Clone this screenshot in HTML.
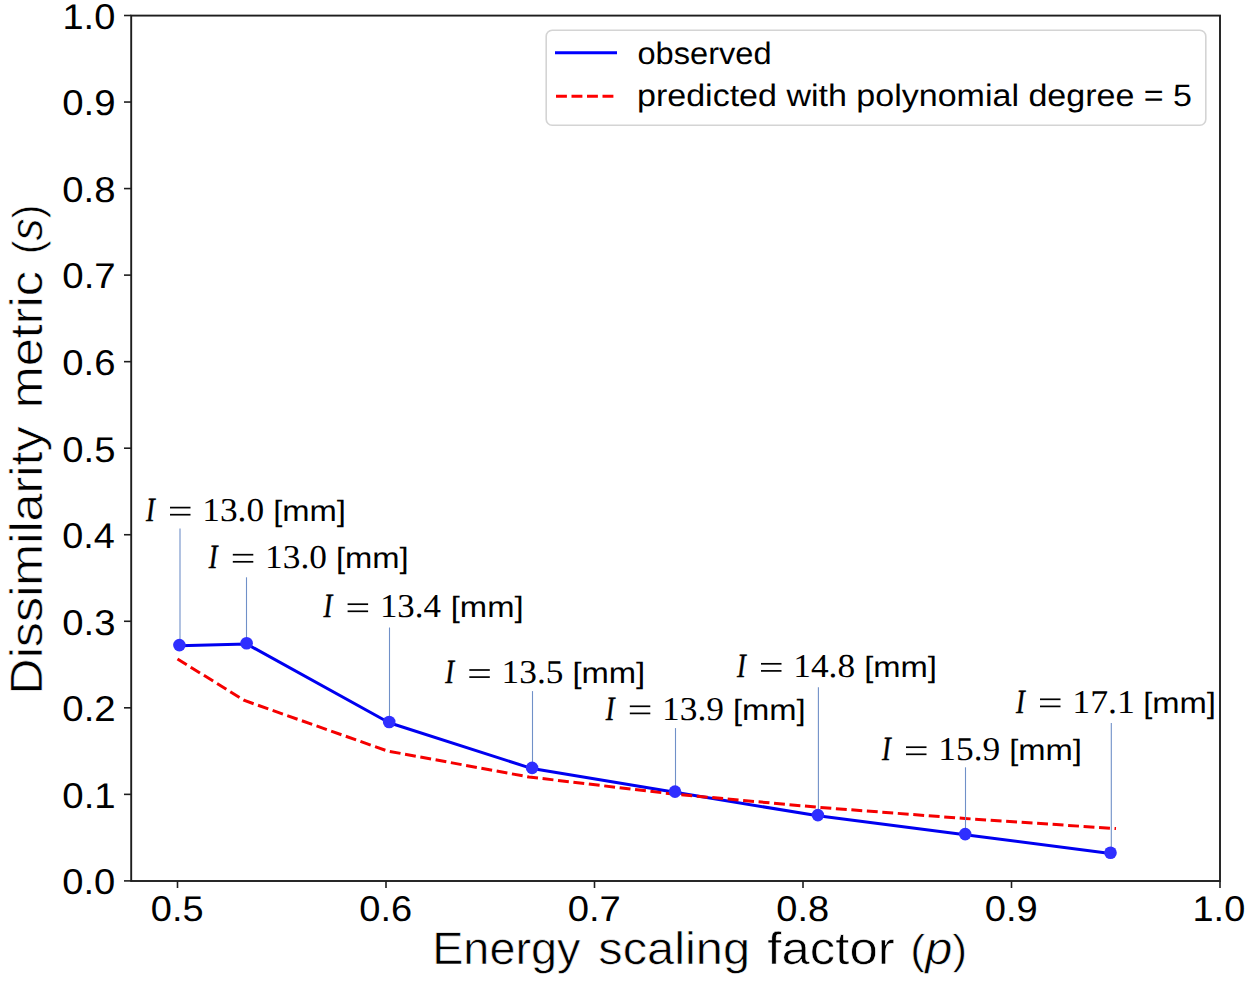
<!DOCTYPE html>
<html><head><meta charset="utf-8"><style>
html,body{margin:0;padding:0;background:#fff;}
body{width:1248px;height:982px;overflow:hidden;font-family:"Liberation Sans", sans-serif;}
svg{display:block;text-rendering:geometricPrecision;}
</style></head><body>
<svg width="1248" height="982" viewBox="0 0 1248 982">
<rect x="0" y="0" width="1248" height="982" fill="#fff"/>
<rect x="131.2" y="15.6" width="1088.8" height="865.4" fill="none" stroke="#1e1e1e" stroke-width="1.9"/>
<line x1="124" y1="880.90" x2="131.2" y2="880.90" stroke="#1e1e1e" stroke-width="1.6"/>
<text x="62.31" y="894.20" font-family='"Liberation Sans", sans-serif' font-size="35.8" textLength="52.98" lengthAdjust="spacingAndGlyphs">0.0</text>
<line x1="124" y1="794.36" x2="131.2" y2="794.36" stroke="#1e1e1e" stroke-width="1.6"/>
<text x="62.30" y="807.66" font-family='"Liberation Sans", sans-serif' font-size="35.8" textLength="53.37" lengthAdjust="spacingAndGlyphs">0.1</text>
<line x1="124" y1="707.82" x2="131.2" y2="707.82" stroke="#1e1e1e" stroke-width="1.6"/>
<text x="62.30" y="721.12" font-family='"Liberation Sans", sans-serif' font-size="35.8" textLength="53.43" lengthAdjust="spacingAndGlyphs">0.2</text>
<line x1="124" y1="621.28" x2="131.2" y2="621.28" stroke="#1e1e1e" stroke-width="1.6"/>
<text x="62.31" y="634.58" font-family='"Liberation Sans", sans-serif' font-size="35.8" textLength="53.18" lengthAdjust="spacingAndGlyphs">0.3</text>
<line x1="124" y1="534.74" x2="131.2" y2="534.74" stroke="#1e1e1e" stroke-width="1.6"/>
<text x="62.32" y="548.04" font-family='"Liberation Sans", sans-serif' font-size="35.8" textLength="52.59" lengthAdjust="spacingAndGlyphs">0.4</text>
<line x1="124" y1="448.20" x2="131.2" y2="448.20" stroke="#1e1e1e" stroke-width="1.6"/>
<text x="62.31" y="461.50" font-family='"Liberation Sans", sans-serif' font-size="35.8" textLength="53.10" lengthAdjust="spacingAndGlyphs">0.5</text>
<line x1="124" y1="361.66" x2="131.2" y2="361.66" stroke="#1e1e1e" stroke-width="1.6"/>
<text x="62.31" y="374.96" font-family='"Liberation Sans", sans-serif' font-size="35.8" textLength="53.18" lengthAdjust="spacingAndGlyphs">0.6</text>
<line x1="124" y1="275.12" x2="131.2" y2="275.12" stroke="#1e1e1e" stroke-width="1.6"/>
<text x="62.30" y="288.42" font-family='"Liberation Sans", sans-serif' font-size="35.8" textLength="53.43" lengthAdjust="spacingAndGlyphs">0.7</text>
<line x1="124" y1="188.58" x2="131.2" y2="188.58" stroke="#1e1e1e" stroke-width="1.6"/>
<text x="62.31" y="201.88" font-family='"Liberation Sans", sans-serif' font-size="35.8" textLength="53.16" lengthAdjust="spacingAndGlyphs">0.8</text>
<line x1="124" y1="102.04" x2="131.2" y2="102.04" stroke="#1e1e1e" stroke-width="1.6"/>
<text x="62.30" y="115.34" font-family='"Liberation Sans", sans-serif' font-size="35.8" textLength="53.31" lengthAdjust="spacingAndGlyphs">0.9</text>
<line x1="124" y1="15.50" x2="131.2" y2="15.50" stroke="#1e1e1e" stroke-width="1.6"/>
<text x="62.51" y="28.80" font-family='"Liberation Sans", sans-serif' font-size="35.8" textLength="52.77" lengthAdjust="spacingAndGlyphs">1.0</text>
<line x1="177.50" y1="881.0" x2="177.50" y2="888" stroke="#1e1e1e" stroke-width="1.6"/>
<text x="150.77" y="920.6" font-family='"Liberation Sans", sans-serif' font-size="35.8" textLength="52.78" lengthAdjust="spacingAndGlyphs">0.5</text>
<line x1="386.00" y1="881.0" x2="386.00" y2="888" stroke="#1e1e1e" stroke-width="1.6"/>
<text x="359.26" y="920.6" font-family='"Liberation Sans", sans-serif' font-size="35.8" textLength="52.86" lengthAdjust="spacingAndGlyphs">0.6</text>
<line x1="594.50" y1="881.0" x2="594.50" y2="888" stroke="#1e1e1e" stroke-width="1.6"/>
<text x="567.76" y="920.6" font-family='"Liberation Sans", sans-serif' font-size="35.8" textLength="53.11" lengthAdjust="spacingAndGlyphs">0.7</text>
<line x1="803.00" y1="881.0" x2="803.00" y2="888" stroke="#1e1e1e" stroke-width="1.6"/>
<text x="776.27" y="920.6" font-family='"Liberation Sans", sans-serif' font-size="35.8" textLength="52.84" lengthAdjust="spacingAndGlyphs">0.8</text>
<line x1="1011.50" y1="881.0" x2="1011.50" y2="888" stroke="#1e1e1e" stroke-width="1.6"/>
<text x="984.76" y="920.6" font-family='"Liberation Sans", sans-serif' font-size="35.8" textLength="52.99" lengthAdjust="spacingAndGlyphs">0.9</text>
<line x1="1220.00" y1="881.0" x2="1220.00" y2="888" stroke="#1e1e1e" stroke-width="1.6"/>
<text x="1192.56" y="920.6" font-family='"Liberation Sans", sans-serif' font-size="35.8" textLength="52.67" lengthAdjust="spacingAndGlyphs">1.0</text>
<text x="432.16" y="963.8" font-family='"Liberation Sans", sans-serif' font-size="45.5" stroke="#fff" stroke-width="0.6" textLength="148.23" lengthAdjust="spacingAndGlyphs">Energy</text>
<text x="598.34" y="963.8" font-family='"Liberation Sans", sans-serif' font-size="45.5" stroke="#fff" stroke-width="0.6" textLength="151.70" lengthAdjust="spacingAndGlyphs">scaling</text>
<text x="767.38" y="963.8" font-family='"Liberation Sans", sans-serif' font-size="45.5" stroke="#fff" stroke-width="0.6" textLength="127.27" lengthAdjust="spacingAndGlyphs">factor</text>
<text x="910.33" y="963.8" font-family='"Liberation Sans", sans-serif' font-size="45.5" stroke="#fff" stroke-width="0.6" textLength="56.85" lengthAdjust="spacingAndGlyphs"><tspan font-size="41.86">(</tspan><tspan font-style="italic">p</tspan><tspan font-size="41.86">)</tspan></text>
<text transform="translate(41.7,694.63) rotate(-90)" x="0" y="0" font-family='"Liberation Sans", sans-serif' font-size="45.5" stroke="#fff" stroke-width="0.6" textLength="268.22" lengthAdjust="spacingAndGlyphs">Dissimilarity</text>
<text transform="translate(41.7,408.24) rotate(-90)" x="0" y="0" font-family='"Liberation Sans", sans-serif' font-size="45.5" stroke="#fff" stroke-width="0.6" textLength="137.07" lengthAdjust="spacingAndGlyphs">metric</text>
<text transform="translate(41.7,253.92) rotate(-90)" x="0" y="0" font-family='"Liberation Sans", sans-serif' font-size="45.5" stroke="#fff" stroke-width="0.6" textLength="49.14" lengthAdjust="spacingAndGlyphs"><tspan font-size="41.86">(</tspan><tspan font-style="italic">s</tspan><tspan font-size="41.86">)</tspan></text>
<polyline fill="none" stroke="#0000f0" stroke-width="3" stroke-linejoin="round" points="179.4,645.8 246.6,644.0 389.2,722.7 532.1,768.6 675.0,792.3 817.9,815.8 965.2,834.8 1110.5,853.5"/>
<polyline fill="none" stroke="#f50000" stroke-width="3" stroke-dasharray="10.91 4.61" points="177.5,659.0 244.5,700.5 387.5,751.0 529.0,777.0 673.0,794.0 818.0,807.3 965.0,818.5 1116.0,828.6"/>
<line x1="180.0" y1="528.4" x2="180.0" y2="645.1" stroke="#7090c8" stroke-width="1.1"/>
<line x1="246.5" y1="577.3" x2="246.5" y2="643.3" stroke="#7090c8" stroke-width="1.1"/>
<line x1="389.5" y1="627.5" x2="389.5" y2="722.0" stroke="#7090c8" stroke-width="1.1"/>
<line x1="532.5" y1="691.1" x2="532.5" y2="767.9" stroke="#7090c8" stroke-width="1.1"/>
<line x1="675.5" y1="728.1" x2="675.5" y2="791.6" stroke="#7090c8" stroke-width="1.1"/>
<line x1="818.4" y1="687.2" x2="818.4" y2="815.1" stroke="#7090c8" stroke-width="1.1"/>
<line x1="965.5" y1="767.3" x2="965.5" y2="834.1" stroke="#7090c8" stroke-width="1.1"/>
<line x1="1111.3" y1="722.9" x2="1111.3" y2="852.8" stroke="#7090c8" stroke-width="1.1"/>
<text x="145.90" y="520.85" font-family='"Liberation Serif", serif' font-style="italic" font-size="33.9" stroke="#000" stroke-width="0.5" textLength="8.77" lengthAdjust="spacingAndGlyphs">I</text>
<rect x="170.0" y="506.75" width="20.5" height="1.7" fill="#000"/>
<rect x="170.0" y="513.85" width="20.5" height="1.7" fill="#000"/>
<text x="202.29" y="520.85" font-family='"Liberation Serif", serif' font-size="33.3" textLength="61.85" lengthAdjust="spacingAndGlyphs">13.0</text>
<text x="273.16" y="520.85" font-family='"Liberation Sans", sans-serif' font-size="29.5" textLength="72.77" lengthAdjust="spacingAndGlyphs">[mm]</text>
<text x="208.70" y="567.95" font-family='"Liberation Serif", serif' font-style="italic" font-size="33.9" stroke="#000" stroke-width="0.5" textLength="8.77" lengthAdjust="spacingAndGlyphs">I</text>
<rect x="232.8" y="553.85" width="20.5" height="1.7" fill="#000"/>
<rect x="232.8" y="560.95" width="20.5" height="1.7" fill="#000"/>
<text x="265.09" y="567.95" font-family='"Liberation Serif", serif' font-size="33.3" textLength="61.85" lengthAdjust="spacingAndGlyphs">13.0</text>
<text x="335.96" y="567.95" font-family='"Liberation Sans", sans-serif' font-size="29.5" textLength="72.77" lengthAdjust="spacingAndGlyphs">[mm]</text>
<text x="323.50" y="617.45" font-family='"Liberation Serif", serif' font-style="italic" font-size="33.9" stroke="#000" stroke-width="0.5" textLength="8.77" lengthAdjust="spacingAndGlyphs">I</text>
<rect x="347.6" y="603.35" width="20.5" height="1.7" fill="#000"/>
<rect x="347.6" y="610.45" width="20.5" height="1.7" fill="#000"/>
<text x="379.94" y="617.45" font-family='"Liberation Serif", serif' font-size="33.3" textLength="61.01" lengthAdjust="spacingAndGlyphs">13.4</text>
<text x="450.76" y="617.45" font-family='"Liberation Sans", sans-serif' font-size="29.5" textLength="72.77" lengthAdjust="spacingAndGlyphs">[mm]</text>
<text x="445.20" y="683.25" font-family='"Liberation Serif", serif' font-style="italic" font-size="33.9" stroke="#000" stroke-width="0.5" textLength="8.77" lengthAdjust="spacingAndGlyphs">I</text>
<rect x="469.3" y="669.15" width="20.5" height="1.7" fill="#000"/>
<rect x="469.3" y="676.25" width="20.5" height="1.7" fill="#000"/>
<text x="501.59" y="683.25" font-family='"Liberation Serif", serif' font-size="33.3" textLength="61.89" lengthAdjust="spacingAndGlyphs">13.5</text>
<text x="572.46" y="683.25" font-family='"Liberation Sans", sans-serif' font-size="29.5" textLength="72.77" lengthAdjust="spacingAndGlyphs">[mm]</text>
<text x="605.70" y="719.55" font-family='"Liberation Serif", serif' font-style="italic" font-size="33.9" stroke="#000" stroke-width="0.5" textLength="8.77" lengthAdjust="spacingAndGlyphs">I</text>
<rect x="629.8" y="705.45" width="20.5" height="1.7" fill="#000"/>
<rect x="629.8" y="712.55" width="20.5" height="1.7" fill="#000"/>
<text x="662.09" y="719.55" font-family='"Liberation Serif", serif' font-size="33.3" textLength="61.96" lengthAdjust="spacingAndGlyphs">13.9</text>
<text x="732.96" y="719.55" font-family='"Liberation Sans", sans-serif' font-size="29.5" textLength="72.77" lengthAdjust="spacingAndGlyphs">[mm]</text>
<text x="736.90" y="677.05" font-family='"Liberation Serif", serif' font-style="italic" font-size="33.9" stroke="#000" stroke-width="0.5" textLength="8.77" lengthAdjust="spacingAndGlyphs">I</text>
<rect x="761.0" y="662.95" width="20.5" height="1.7" fill="#000"/>
<rect x="761.0" y="670.05" width="20.5" height="1.7" fill="#000"/>
<text x="793.29" y="677.05" font-family='"Liberation Serif", serif' font-size="33.3" textLength="61.85" lengthAdjust="spacingAndGlyphs">14.8</text>
<text x="864.16" y="677.05" font-family='"Liberation Sans", sans-serif' font-size="29.5" textLength="72.77" lengthAdjust="spacingAndGlyphs">[mm]</text>
<text x="881.90" y="760.45" font-family='"Liberation Serif", serif' font-style="italic" font-size="33.9" stroke="#000" stroke-width="0.5" textLength="8.77" lengthAdjust="spacingAndGlyphs">I</text>
<rect x="906.0" y="746.35" width="20.5" height="1.7" fill="#000"/>
<rect x="906.0" y="753.45" width="20.5" height="1.7" fill="#000"/>
<text x="938.29" y="760.45" font-family='"Liberation Serif", serif' font-size="33.3" textLength="61.96" lengthAdjust="spacingAndGlyphs">15.9</text>
<text x="1009.16" y="760.45" font-family='"Liberation Sans", sans-serif' font-size="29.5" textLength="72.77" lengthAdjust="spacingAndGlyphs">[mm]</text>
<text x="1015.90" y="712.55" font-family='"Liberation Serif", serif' font-style="italic" font-size="33.9" stroke="#000" stroke-width="0.5" textLength="8.77" lengthAdjust="spacingAndGlyphs">I</text>
<rect x="1040.0" y="698.45" width="20.5" height="1.7" fill="#000"/>
<rect x="1040.0" y="705.55" width="20.5" height="1.7" fill="#000"/>
<text x="1072.25" y="712.55" font-family='"Liberation Serif", serif' font-size="33.3" textLength="62.70" lengthAdjust="spacingAndGlyphs">17.1</text>
<text x="1143.16" y="712.55" font-family='"Liberation Sans", sans-serif' font-size="29.5" textLength="72.77" lengthAdjust="spacingAndGlyphs">[mm]</text>
<circle cx="179.4" cy="645.1" r="6.3" fill="#2f2fff"/>
<circle cx="246.6" cy="643.3" r="6.3" fill="#2f2fff"/>
<circle cx="389.2" cy="722.0" r="6.3" fill="#2f2fff"/>
<circle cx="532.1" cy="767.9" r="6.3" fill="#2f2fff"/>
<circle cx="675.0" cy="791.6" r="6.3" fill="#2f2fff"/>
<circle cx="817.9" cy="815.1" r="6.3" fill="#2f2fff"/>
<circle cx="965.2" cy="834.1" r="6.3" fill="#2f2fff"/>
<circle cx="1110.5" cy="852.8" r="6.3" fill="#2f2fff"/>
<rect x="546.2" y="30.2" width="659.6" height="95.1" rx="6" ry="6" fill="#fff" fill-opacity="0.8" stroke="#d4d4d4" stroke-width="1.6"/>
<line x1="555" y1="52.7" x2="617" y2="52.7" stroke="#0000ff" stroke-width="3"/>
<line x1="556" y1="96.2" x2="614" y2="96.2" stroke="#ff0000" stroke-width="3" stroke-dasharray="10.9 4.6"/>
<text x="637.5" y="63.8" font-family='"Liberation Sans", sans-serif' font-size="31" textLength="134" lengthAdjust="spacingAndGlyphs">observed</text>
<text x="637" y="105.6" font-family='"Liberation Sans", sans-serif' font-size="31" textLength="555" lengthAdjust="spacingAndGlyphs">predicted with polynomial degree = 5</text>
</svg>
</body></html>
